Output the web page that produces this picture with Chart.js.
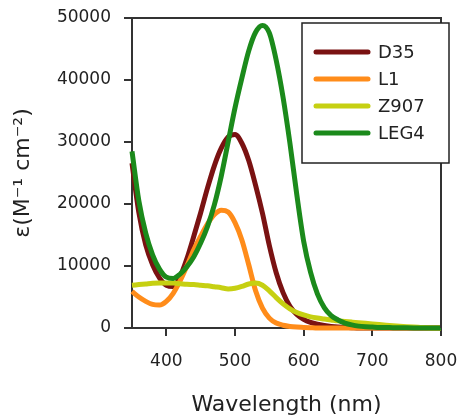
<!DOCTYPE html>
<html>
<head>
<meta charset="utf-8">
<script src="https://cdn.jsdelivr.net/npm/chart.js@4.4.1/dist/chart.umd.min.js"></script>
<style>
  html, body { margin: 0; padding: 0; background: #fff; }
  #wrap { width: 462px; height: 416px; }
</style>
</head>
<body>
<div id="wrap"><canvas id="spectra"></canvas></div>
<script>
// wavelength grid (nm)
const wavelength = [350, 360, 370, 380, 390, 400, 410, 420, 430, 440, 450, 460, 470, 480, 490,
    500, 510, 520, 530, 540, 550, 560, 570, 580, 590, 600, 610, 620, 630, 640, 650, 660, 670,
    680, 690, 700, 710, 720, 730, 740, 750, 760, 770, 780, 790, 800];

// molar extinction coefficients
const d35 = [26600, 18600, 13400, 10200, 8100, 6900, 6700, 8300, 11200, 14800, 18600, 22600,
    26200, 29000, 30800, 31200, 29800, 27000, 23000, 18500, 13300, 8900, 5700, 3500, 2200,
    1400, 900, 600, 400, 250, 150, 100, 50, 0, 0, 0, 0, 0, 0, 0, 0, 0, 0, 0, 0, 0];
const l1 = [5900, 5000, 4300, 3800, 3700, 4300, 5600, 7600, 10000, 12600, 14800, 16800, 18300,
    19000, 18700, 17000, 14200, 10200, 6000, 3200, 1600, 800, 450, 250, 150, 100, 50, 0, 0,
    0, 0, 0, 0, 0, 0, 0, 0, 0, 0, 0, 0, 0, 0, 0, 0, 0];
const z907 = [6900, 7000, 7100, 7200, 7250, 7250, 7250, 7150, 7050, 7000, 6900, 6800, 6650,
    6500, 6300, 6400, 6700, 7100, 7250, 6900, 6000, 4900, 3900, 3100, 2500, 2100, 1800, 1600,
    1450, 1300, 1150, 1050, 950, 850, 750, 650, 550, 450, 370, 300, 220, 150, 100, 50, 20, 0];
const leg4 = [28500, 20500, 15300, 11800, 9500, 8200, 8000, 8700, 9900, 11500, 13700, 16400,
    19900, 24500, 30000, 35500, 40300, 44700, 47700, 48800, 47600, 43200, 37200, 29800, 21500,
    14000, 9000, 5500, 3300, 2000, 1300, 800, 500, 300, 200, 150, 100, 80, 60, 40, 30, 20, 10,
    0, 0, 0];

const seriesNames = ['D35', 'L1', 'Z907', 'LEG4'];
const seriesColors = ['#7a1212', '#ff8c1a', '#c6d012', '#1b8a1b'];
const xTicks = [400, 500, 600, 700, 800];
const yTicks = [0, 10000, 20000, 30000, 40000, 50000];

const axisColor = '#333';
const fontFamily = '"DejaVu Sans", sans-serif';

function toPoints(values) {
    return wavelength.map((w, i) => ({ x: w, y: values[i] }));
}

// frame on top/right of the plot area
const frame = {
    id: 'frame',
    afterDatasetsDraw(chart) {
        const { ctx, chartArea } = chart;
        ctx.save();
        ctx.strokeStyle = axisColor;
        ctx.lineWidth = 2;
        ctx.beginPath();
        ctx.moveTo(chartArea.left, chartArea.top);
        ctx.lineTo(chartArea.right, chartArea.top);
        ctx.lineTo(chartArea.right, chartArea.bottom);
        ctx.stroke();
        ctx.restore();
    }
};

// legend box drawn inside the top-right corner
const legendBox = {
    id: 'legendBox',
    afterDraw(chart) {
        const { ctx, chartArea } = chart;
        const boxX = chartArea.right - 139;
        const boxY = chartArea.top + 5;
        const boxW = 147;
        const boxH = 140;
        ctx.save();
        ctx.fillStyle = '#fff';
        ctx.fillRect(boxX, boxY, boxW, boxH);
        ctx.strokeStyle = '#222';
        ctx.lineWidth = 1.5;
        ctx.strokeRect(boxX, boxY, boxW, boxH);
        ctx.font = '18px ' + fontFamily;
        ctx.textBaseline = 'middle';
        ctx.lineCap = 'round';
        chart.data.datasets.forEach((ds, i) => {
            const rowY = boxY + 29 + i * 27;
            ctx.strokeStyle = ds.borderColor;
            ctx.lineWidth = 5;
            ctx.beginPath();
            ctx.moveTo(boxX + 14, rowY);
            ctx.lineTo(boxX + 66, rowY);
            ctx.stroke();
            ctx.fillStyle = '#222';
            ctx.fillText(ds.label, boxX + 76, rowY + 1);
        });
        ctx.restore();
    }
};

const datasets = [d35, l1, z907, leg4].map((values, i) => ({
    label: seriesNames[i],
    data: toPoints(values),
    borderColor: seriesColors[i],
    backgroundColor: seriesColors[i],
    borderWidth: 5,
    pointRadius: 0,
    fill: false,
    cubicInterpolationMode: 'monotone',
    clip: false,
    order: 4 - i
}));

new Chart(document.getElementById('spectra'), {
    type: 'line',
    data: { datasets: datasets },
    options: {
        responsive: true,
        maintainAspectRatio: false,
        animation: false,
        events: [],
        layout: { padding: { top: 18, right: 21, left: 0, bottom: 0 } },
        plugins: {
            legend: { display: false },
            tooltip: { enabled: false }
        },
        scales: {
            x: {
                type: 'linear',
                min: 350,
                max: 800,
                afterBuildTicks: (scale) => { scale.ticks = xTicks.map(v => ({ value: v })); },
                afterFit: (scale) => {
                    scale.height = 88;
                    scale.paddingLeft = 0;
                    scale.paddingRight = 0;
                },
                border: { display: true, color: axisColor, width: 2 },
                grid: { drawOnChartArea: false, tickLength: 8, color: axisColor, lineWidth: 2 },
                ticks: { color: '#222', padding: 15, maxRotation: 0, font: { family: fontFamily, size: 17 } },
                title: {
                    display: true,
                    text: 'Wavelength (nm)',
                    color: '#222',
                    padding: { top: 0, bottom: 0 },
                    font: { family: fontFamily, size: 22, lineHeight: 1 }
                }
            },
            y: {
                type: 'linear',
                min: 0,
                max: 50000,
                afterBuildTicks: (scale) => { scale.ticks = yTicks.map(v => ({ value: v })); },
                afterFit: (scale) => {
                    scale.width = 132;
                    scale.paddingTop = 0;
                    scale.paddingBottom = 0;
                },
                border: { display: true, color: axisColor, width: 2 },
                grid: { drawOnChartArea: false, tickLength: 8, color: axisColor, lineWidth: 2 },
                ticks: {
                    color: '#222',
                    padding: 13,
                    font: { family: fontFamily, size: 17 },
                    callback: (v) => String(v)
                },
                title: {
                    display: true,
                    text: 'ε(M⁻¹ cm⁻²)',
                    color: '#222',
                    padding: { top: 10, bottom: 0 },
                    font: { family: fontFamily, size: 22 }
                }
            }
        }
    },
    plugins: [frame, legendBox]
});
</script>
</body>
</html>
